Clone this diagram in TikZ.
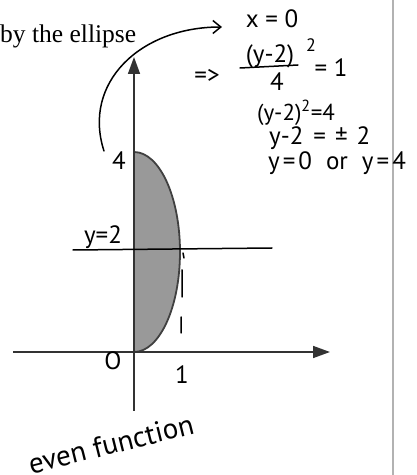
\documentclass[tikz,border=0pt]{standalone}
\usepackage{fontspec}
\setmainfont{Liberation Serif}
\newfontfamily\handfont{PT Sans}
\usetikzlibrary{arrows.meta}
\tikzset{
  hand/.style={font=\handfont\fontsize{25}{25}\selectfont, inner sep=0pt},
  axis/.style={draw=black!80, line width=1.6pt, -{Triangle[length=17pt,width=12pt]}},
  ink/.style={line width=1.5pt, line cap=round, line join=round},
}
\begin{document}
\begin{tikzpicture}[x=1pt,y=1pt]
\useasboundingbox (0,0) rectangle (416,475);
% page edge
\draw[black!30, line width=2pt] (393,0) -- (393,475);
\node[anchor=base west, inner sep=0pt, font=\fontsize{25.5}{25.5}\selectfont] (title) at (0,432) {by the ellipse};
% shaded half ellipse
\fill[black!40] (134,323) arc[start angle=90, end angle=-90, x radius=46, y radius=100] -- cycle;
\draw[black!75, line width=1.8pt] (134,323) arc[start angle=90, end angle=-90, x radius=46, y radius=100];
% axes
\coordinate (O) at (134,123);
\draw[axis] (134,64) -- (134,418);
\draw[axis] (13,123) -- (330,123);
% y=2 and the dashes at x=1
\draw[ink] (73,225) -- (272,227);
\draw[ink] (183,222) -- (184,217) (182,205) -- (182,178) (181,158) -- (181,142);
% labels
\node[hand] (four) at (119,314) {4};
\node[hand] (ytwo) at (103,238) {y=2};
\node[hand] (orig) at (113,114) {O};
\node[hand] (one) at (182,100) {1};
\node[hand, rotate=14, font=\handfont\fontsize{29}{29}\selectfont] (even) at (111,31) {even function};
% working
\node[hand] (xeq) at (272,456) {x = 0};
\node[hand] (impl) at (207,399) {=>};
\node[hand] (num) at (270,419) {(y-2)};
\node[hand, font=\handfont\fontsize{18}{18}\selectfont] (sq) at (311,430) {2};
\coordinate (barl) at (240,407);
\coordinate (barr) at (298,410);
\draw[ink] (barl) -- (barr);
\node[hand] (den) at (277,393) {4};
\node[hand] (eqone) at (331,407) {= 1};
\node[hand, font=\handfont\fontsize{23}{23}\selectfont] (sqline) at (296,362) {(y-2)\textsuperscript{2}=4};
\node[hand, anchor=west] (pmline) at (269,337) {y-2\hspace{10pt}=\hspace{9pt}±\hspace{9pt}2};
\node[hand, anchor=west] (roots) at (268,312) {y\hspace{3pt}=\hspace{3pt}0\hspace{14pt}or\hspace{14pt}y\hspace{3pt}=\hspace{3pt}4};
% arrow from the 4 to x=0
\coordinate (hook) at (104,324);
\coordinate (tip) at (222,448);
\draw[ink, -{Straight Barb[length=8pt,width=13pt]}] (hook) .. controls (82,392) and (140,448) .. (tip);
\end{tikzpicture}
\end{document}
